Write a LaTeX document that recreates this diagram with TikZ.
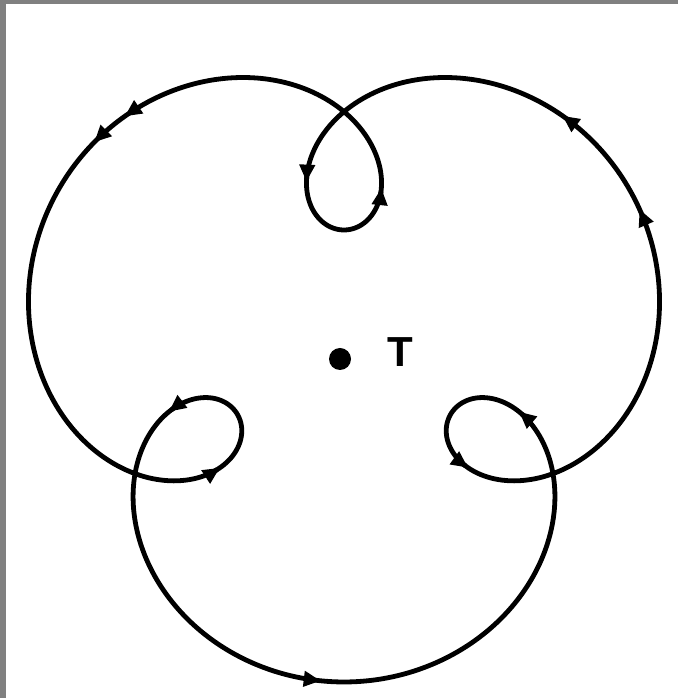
\documentclass[tikz,border=0pt]{standalone}
\usepackage{fontspec}
\setmainfont{Liberation Sans}
\usetikzlibrary{arrows.meta}
\begin{document}
\begin{tikzpicture}[x=1pt,y=1pt,
  curve/.style={line width=4.8pt, line join=round},
  arrowhd/.style={-{Triangle[length=17pt,width=15pt]}, line width=4.8pt},
  declare function={
    cX(\t)=344 + 226*sin(\t) + 108*sin(4*\t) + 5*sin(2*\t);
    cY(\t)=345 - (226*cos(\t) + 108*cos(4*\t) - 5*cos(2*\t));
  }]
\useasboundingbox (0,0) rectangle (678,698);
\fill[white] (0,0) rectangle (678,698);
\fill[black!50] (0,0) rectangle (6,698);
\fill[black!50] (0,694) rectangle (678,698);
% curve
\draw[curve] plot[domain=0:360, samples=600, smooth, variable=\t] ({cX(\t)}, {cY(\t)}) -- cycle;
% arrowheads along the curve
\foreach \t in {-2, 118, 128.6, 231.5, 235, 164.5, 194.3, 285.7, 317.2, 42.8, 74.3}{
  \draw[arrowhd] ({cX(\t-0.6)}, {cY(\t-0.6)}) -- ({cX(\t)}, {cY(\t)});
}
% centre and label
\fill (340,339) circle (11) coordinate (dot);
\node[font=\fontsize{42}{42}\selectfont\bfseries, inner sep=0pt] (T) at (400,346) {T};
\end{tikzpicture}
\end{document}
